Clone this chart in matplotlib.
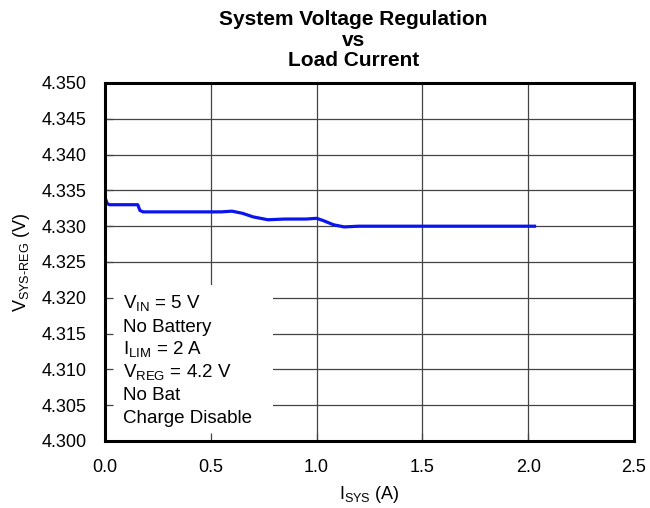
import matplotlib
matplotlib.use('Agg')
import matplotlib.pyplot as plt
import numpy as np

plt.rcParams['font.family'] = ['Liberation Sans', 'DejaVu Sans']
plt.rcParams['mathtext.fontset'] = 'custom'
plt.rcParams['mathtext.rm'] = 'Liberation Sans'

# load current (A) vs system voltage (V)
i_sys = [0.0, 0.01, 0.02, 0.10, 0.155, 0.165, 0.18, 0.25, 0.40, 0.55, 0.60, 0.65,
         0.70, 0.77, 0.85, 0.95, 1.00, 1.03, 1.08, 1.13, 1.20, 1.50, 1.80, 2.03]
v_sys = [4.3340, 4.3332, 4.3330, 4.3330, 4.3330, 4.3322, 4.3320, 4.3320, 4.3320, 4.3320,
         4.3321, 4.3318, 4.3313, 4.3309, 4.3310, 4.3310, 4.3311, 4.3308, 4.3302, 4.3299,
         4.3300, 4.3300, 4.3300, 4.3300]

x_ticks = [0.0, 0.5, 1.0, 1.5, 2.0, 2.5]
y_ticks = [4.300, 4.305, 4.310, 4.315, 4.320, 4.325, 4.330, 4.335, 4.340, 4.345, 4.350]

notes = [r'V$_{\mathregular{IN}}$ = 5 V', 'No Battery', r'I$_{\mathregular{LIM}}$ = 2 A',
         r'V$_{\mathregular{REG}}$ = 4.2 V', 'No Bat', 'Charge Disable']

fig = plt.figure(figsize=(6.5, 5.08), dpi=100)
ax = fig.add_axes([105 / 650, 1 - 441 / 508, 529 / 650, 358 / 508])

for xv in x_ticks[1:-1]:
    ax.axvline(xv, color='#444444', lw=0.9, zorder=0.6)
for yv in y_ticks[1:-1]:
    ax.axhline(yv, color='#444444', lw=0.9, zorder=0.6)

ax.plot(i_sys, v_sys, color='#0a14ee', lw=2.3, zorder=3)

ax.set_xlim(0, 2.5)
ax.set_ylim(4.300, 4.350)
ax.set_xticks(x_ticks)
ax.set_yticks(y_ticks)
ax.set_xticklabels(['%.1f' % v for v in x_ticks])
ax.set_yticklabels(['%.3f' % v for v in y_ticks])
ax.tick_params(direction='in', length=6, width=0.9, labelsize=13, pad=13, color='#444444')
for s in ax.spines.values():
    s.set_linewidth(2.2)
    s.set_zorder(4)

# white note box covering the gridlines
box = plt.Rectangle((0, 0), 0.318, 0.436, transform=ax.transAxes,
                    facecolor='white', edgecolor='none', zorder=1)
ax.add_patch(box)
for k, t in enumerate(notes):
    ax.text(0.034, 0.369 - k * 0.0637, t, transform=ax.transAxes, fontsize=13.5,
            va='baseline', ha='left', zorder=2)

ax.set_xlabel(r'I$_{\mathregular{SYS}}$ (A)', fontsize=13, labelpad=6)
ax.set_ylabel(r'V$_{\mathregular{SYS\text{-}REG}}$ (V)', fontsize=13, labelpad=7)
ax.set_title('System Voltage Regulation\nvs\nLoad Current', fontsize=15,
             fontweight='bold', linespacing=1.12, pad=12, x=0.47)

fig.savefig('out.png', dpi=100)
